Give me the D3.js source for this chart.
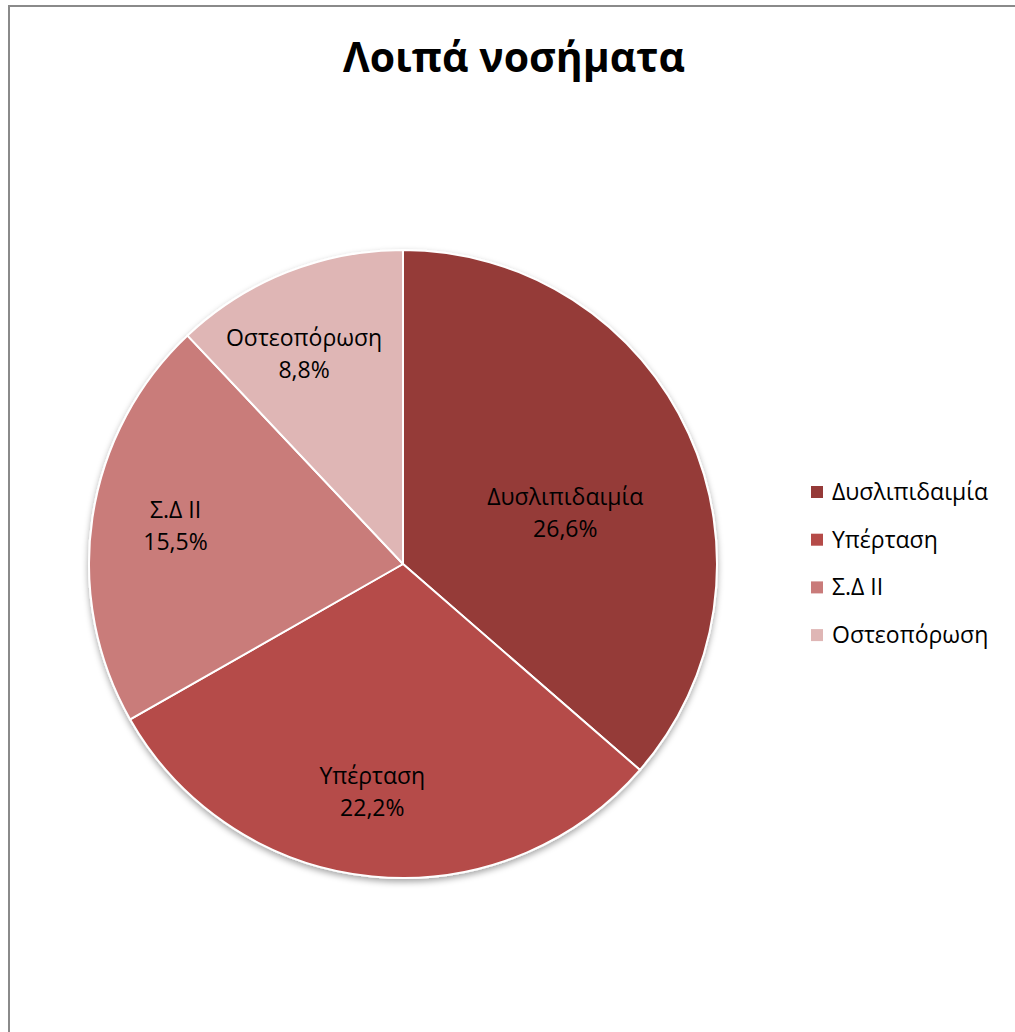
<!DOCTYPE html>
<html>
<head>
<meta charset="utf-8">
<script src="https://cdn.jsdelivr.net/npm/d3@7"></script>
<style>
  html, body { margin: 0; padding: 0; background: #fff; }
  svg { display: block; }
  text { font-family: "Open Sans", "Noto Sans", sans-serif; }
</style>
</head>
<body>
<svg id="chart" width="1015" height="1032"></svg>
<script>
// Chart data
const title = "Λοιπά νοσήματα";
const categories = ["Δυσλιπιδαιμία", "Υπέρταση", "Σ.Δ II", "Οστεοπόρωση"];
const values = [26.6, 22.2, 15.5, 8.8];
const colors = ["#953a38", "#b54b48", "#c97b7a", "#dfb6b5"];

const fmt = v => d3.format(".1f")(v).replace(".", ",") + "%";

const svg = d3.select("#chart");

// Frame around the chart area
svg.append("rect")
  .attr("x", 9).attr("y", 6)
  .attr("width", 1100).attr("height", 1100)
  .attr("fill", "#fff")
  .attr("stroke", "#8a8a8a")
  .attr("stroke-width", 2);

// Title
svg.append("text")
  .attr("x", 514).attr("y", 72)
  .attr("text-anchor", "middle")
  .attr("font-size", 41)
  .attr("font-weight", 700)
  .attr("fill", "#000")
  .text(title);

// Soft shadow under the pie
const defs = svg.append("defs");
const f = defs.append("filter").attr("id", "pieShadow")
  .attr("x", "-10%").attr("y", "-10%").attr("width", "120%").attr("height", "125%");
f.append("feDropShadow")
  .attr("dx", 0).attr("dy", 3).attr("stdDeviation", 3)
  .attr("flood-color", "#000").attr("flood-opacity", 0.35);

const cx = 403, cy = 564, radius = 314;

const pie = d3.pie().value(d => d).sort(null);
const arcs = pie(values);
const arc = d3.arc().innerRadius(0).outerRadius(radius);

const g = svg.append("g").attr("transform", `translate(${cx},${cy})`);

g.append("g").attr("filter", "url(#pieShadow)")
  .selectAll("path")
  .data(arcs)
  .join("path")
  .attr("d", arc)
  .attr("fill", (d, i) => colors[i])
  .attr("stroke", "#fff")
  .attr("stroke-width", 2)
  .attr("stroke-linejoin", "round");

// Data labels: placed along each slice's mid-angle, with small layout nudges
const labelArc = d3.arc().innerRadius(230).outerRadius(230);
const labelNudge = [[-47, 40], [-8, -5], [0, -8], [-14, 0]];
const labels = g.append("g").selectAll("text")
  .data(arcs)
  .join("text")
  .attr("text-anchor", "middle")
  .attr("font-size", 23)
  .attr("fill", "#000")
  .attr("transform", (d, i) => {
    const [x, y] = labelArc.centroid(d);
    return `translate(${x + labelNudge[i][0]},${y + labelNudge[i][1]})`;
  });
labels.append("tspan").attr("x", 0).attr("dy", -4).text((d, i) => categories[i]);
labels.append("tspan").attr("x", 0).attr("dy", 32).text(d => fmt(d.data));

// Legend
const legend = svg.append("g").attr("transform", "translate(811,500)");
const rowH = 47.7;
const items = legend.selectAll("g")
  .data(categories)
  .join("g")
  .attr("transform", (d, i) => `translate(0,${i * rowH})`);
items.append("rect")
  .attr("x", 0).attr("y", -14)
  .attr("width", 12).attr("height", 12)
  .attr("fill", (d, i) => colors[i]);
items.append("text")
  .attr("x", 21).attr("y", 0)
  .attr("font-size", 23)
  .attr("fill", "#000")
  .text(d => d);
</script>
</body>
</html>
